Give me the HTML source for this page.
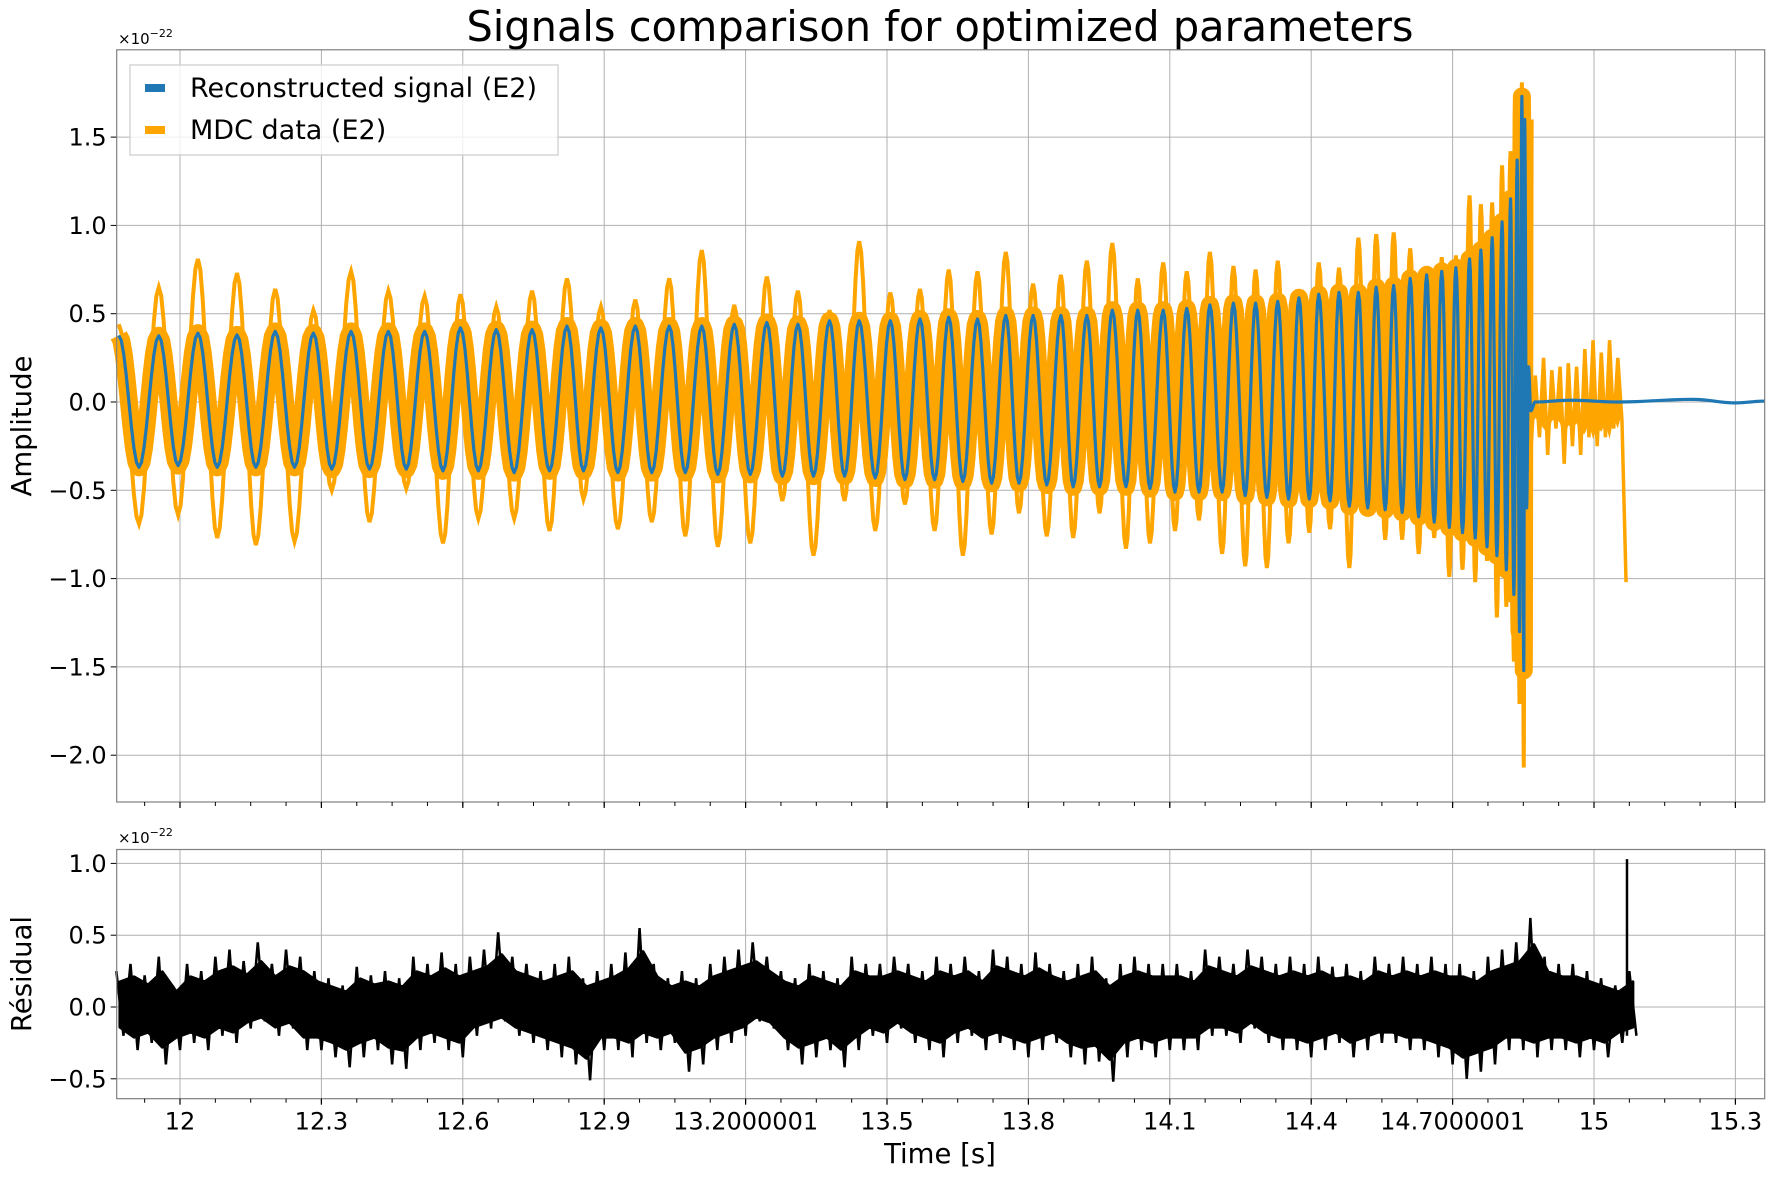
<!DOCTYPE html>
<html><head><meta charset="utf-8">
<style>
body{margin:0;background:#fff;}
svg{display:block;font-family:"DejaVu Sans","Liberation Sans",sans-serif;}
</style></head>
<body>
<svg id="chart" width="1776" height="1178" viewBox="0 0 1776 1178" xmlns="http://www.w3.org/2000/svg">
<rect width="1776" height="1178" fill="#fff"/>
<text x="940" y="41" font-size="41.5" text-anchor="middle" fill="#000">Signals comparison for optimized parameters</text>
<g id="top"></g>
<g id="bot"></g>
<text transform="translate(31,426) rotate(-90)" font-size="27.5" text-anchor="middle">Amplitude</text>
<text transform="translate(31,974) rotate(-90)" font-size="27.5" text-anchor="middle">Résidual</text>
<text x="940" y="1163" font-size="27.5" text-anchor="middle">Time [s]</text>
<text x="118" y="44" font-size="15">×10<tspan dy="-7" font-size="11">−22</tspan></text>
<text x="118" y="843" font-size="15">×10<tspan dy="-7" font-size="11">−22</tspan></text>
<g>
<rect x="130" y="65" width="428" height="90" fill="#fff" fill-opacity="0.8" stroke="#ccc" stroke-width="1.2"/>
<rect x="145" y="84" width="20" height="8" fill="#1f77b4"/>
<text x="190" y="97" font-size="27">Reconstructed signal (E2)</text>
<rect x="145" y="126" width="20" height="8" fill="#ffa500"/>
<text x="190" y="139" font-size="27">MDC data (E2)</text>
</g>
</svg>
<script>
// ---- data ----
const xTicks = [12, 12.3, 12.6, 12.9, 13.2, 13.5, 13.8, 14.1, 14.4, 14.7, 15, 15.3];
const xTickLabels = ["12","12.3","12.6","12.9","13.2000001","13.5","13.8","14.1","14.4","14.7000001","15","15.3"];
const yTicksTop = [1.5, 1.0, 0.5, 0.0, -0.5, -1.0, -1.5, -2.0];
const yTickLabelsTop = ["1.5","1.0","0.5","0.0","−0.5","−1.0","−1.5","−2.0"];
const yTicksBot = [1.0, 0.5, 0.0, -0.5];
const yTickLabelsBot = ["1.0","0.5","0.0","−0.5"];

const blueT = [11.870,11.913,11.955,11.996,12.038,12.079,12.121,12.161,12.202,12.243,12.283,12.322,12.363,12.402,12.442,12.480,12.519,12.558,12.595,12.633,12.671,12.709,12.747,
12.784,12.821,12.856,12.893,12.929,12.966,13.001,13.038,13.072,13.107,13.141,13.176,13.210,13.245,13.278,13.311,13.344,13.378,13.410,13.441,13.475,13.507,13.538,13.570,
13.601,13.631,13.661,13.692,13.722,13.752,13.780,13.810,13.839,13.869,13.895,13.924,13.951,13.978,14.007,14.032,14.058,14.086,14.111,14.136,14.162,14.185,14.211,14.235,14.260,14.282,14.306,14.329,14.352,14.374,14.396,14.416,14.440,14.459,14.481,14.500,14.520,14.538,14.557,14.575,
14.593,14.610,14.628,14.645,14.661,14.677,14.693,14.707,14.721,14.736,14.748,14.760,14.773,14.784,14.794,14.805,14.814,14.823,14.830,14.837,14.842,14.847,14.851,14.853,
14.857,14.861,14.866,14.875,14.95,15.05,15.21,15.30,15.362];
const blueV = [0.377,-0.37,0.375,-0.36,0.39,-0.37,0.38,-0.37,0.40,-0.37,0.39,-0.38,0.40,-0.38,0.40,-0.38,0.40,-0.39,0.42,-0.39,0.41,-0.40,0.41,
-0.39,0.43,-0.39,0.42,-0.40,0.43,-0.40,0.43,-0.40,0.43,-0.41,0.44,-0.41,0.45,-0.42,0.44,-0.42,0.46,-0.42,0.46,-0.43,0.46,-0.44,0.47,
-0.44,0.48,-0.45,0.47,-0.46,0.49,-0.46,0.49,-0.47,0.49,-0.48,0.49,-0.48,0.52,-0.48,0.52,-0.49,0.52,-0.51,0.53,-0.51,0.55,-0.51,0.56,-0.53,0.56,-0.54,0.57,-0.55,0.59,-0.55,0.61,-0.56,0.62,-0.59,0.62,-0.60,0.65,-0.61,0.66,
-0.625,0.70,-0.65,0.72,-0.68,0.74,-0.71,0.76,-0.74,0.81,-0.77,0.86,-0.82,0.93,-0.87,1.02,-0.95,1.15,-1.09,1.37,-1.30,1.73,-1.52,1.60,
-0.6,0.2,-0.05,0.0,0.01,0.0,0.015,-0.005,0.005];
const orangeV = [0.44,-0.69,0.65,-0.64,0.81,-0.77,0.73,-0.81,0.64,-0.79,0.52,-0.50,0.74,-0.68,0.63,-0.49,0.60,-0.80,0.61,-0.66,0.54,-0.66,0.63,
-0.73,0.70,-0.55,0.54,-0.72,0.58,-0.68,0.70,-0.76,0.86,-0.82,0.55,-0.80,0.71,-0.56,0.63,-0.87,0.52,-0.56,0.91,-0.73,0.62,-0.58,0.64,
-0.73,0.75,-0.87,0.74,-0.75,0.85,-0.63,0.67,-0.76,0.72,-0.77,0.80,-0.63,0.90,-0.83,0.70,-0.80,0.79,-0.73,0.74,-0.67,0.85,-0.86,0.77,-0.93,0.75,-0.94,0.80,-0.80,0.61,-0.74,0.79,-0.72,0.76,-0.94,0.93,-0.64,0.95,-0.78,0.96,
-0.78,0.87,-0.86,0.77,-0.77,0.82,-0.99,0.83,-0.95,1.17,-1.02,1.12,-0.90,1.13,-1.22,1.34,-1.16,1.42,-1.47,1.42,-1.71,1.81,-2.07,1.60];
const postStart = 14.858, postEnd = 15.068;
const postV = [0.2,-0.25,0.15,-0.2,0.25,-0.3,0.18,-0.15,0.2,-0.35,0.22,-0.25,0.2,-0.3,0.3,-0.2,0.35,-0.25,0.28,-0.2,0.35,-0.15,0.25,-0.1,-1.02];

const resStart = 11.865, resStep = 0.03;
const resHi = [0.25,0.3,0.22,0.35,0.15, 0.3,0.25,0.35,0.4,0.32, 0.45,0.3,0.4,0.35,0.25, 0.2,0.15,0.28,0.22,0.25, 0.2,0.35,0.3,0.38,0.3,
0.35,0.4,0.52,0.35,0.3, 0.25,0.3,0.35,0.2,0.25, 0.3,0.38,0.55,0.3,0.2, 0.25,0.2,0.3,0.35,0.4, 0.45,0.35,0.25,0.2,0.3,
0.25,0.2,0.35,0.3,0.3, 0.35,0.3,0.25,0.35,0.3, 0.35,0.25,0.4,0.35,0.3, 0.38,0.3,0.25,0.3,0.35, 0.2,0.3,0.35,0.3,0.3,
0.3,0.25,0.4,0.35,0.3, 0.4,0.35,0.3,0.35,0.3, 0.35,0.28,0.3,0.25,0.35, 0.3,0.35,0.3,0.35,0.3, 0.3,0.25,0.35,0.4,0.45,
0.62,0.35,0.3,0.3,0.25, 0.2,0.15,0.25];
const resLo = [-0.2,-0.3,-0.25,-0.4,-0.3, -0.25,-0.3,-0.2,-0.25,-0.15, -0.1,-0.2,-0.15,-0.3,-0.3, -0.35,-0.42,-0.35,-0.3,-0.4, -0.43,-0.3,-0.25,-0.3,-0.35,
-0.2,-0.15,-0.1,-0.2,-0.25, -0.3,-0.35,-0.4,-0.51,-0.3, -0.3,-0.35,-0.25,-0.3,-0.25, -0.45,-0.4,-0.3,-0.25,-0.2, -0.1,-0.15,-0.3,-0.4,-0.35,
-0.3,-0.42,-0.3,-0.2,-0.25, -0.15,-0.25,-0.3,-0.35,-0.25, -0.2,-0.3,-0.25,-0.3,-0.35, -0.3,-0.25,-0.35,-0.4,-0.38, -0.52,-0.35,-0.3,-0.35,-0.3,
-0.3,-0.3,-0.2,-0.2,-0.25, -0.15,-0.25,-0.3,-0.3,-0.35, -0.3,-0.25,-0.35,-0.3,-0.25, -0.25,-0.3,-0.3,-0.35,-0.4, -0.5,-0.45,-0.4,-0.3,-0.3,
-0.35,-0.3,-0.3,-0.35,-0.3, -0.35,-0.25,-0.2];
const resSpikeT = 15.07, resSpikeV = 1.03;

// ---- axes ----
const L = 116.7, R = 1764.7;
const topT = 49.8, topB = 802, botT = 849.5, botB = 1098.7;
const x = t => 180 + (t - 12) / 0.3 * 141.4;
const y1 = v => 402 - v * 176.6;
const y2 = v => 1007 - v * 143.6;
const NS = "http://www.w3.org/2000/svg";
function mk(tag, attrs, parent) {
  const e = document.createElementNS(NS, tag);
  for (const k in attrs) e.setAttribute(k, attrs[k]);
  parent.appendChild(e);
  return e;
}
const gTop = document.getElementById('top');
const gBot = document.getElementById('bot');

function axes(g, T, B, yfun, yt, ytl, name) {
  mk('rect', {x: L, y: T, width: R - L, height: B - T, fill: '#fff'}, g);
  xTicks.forEach((t) => {
    const gl = mk('line', {x1: x(t), x2: x(t), y1: T, y2: B, stroke: '#b0b0b0', 'stroke-width': 1}, g);
    
    
  });
  yt.forEach((v, i) => {
    const gl = mk('line', {x1: L, x2: R, y1: yfun(v), y2: yfun(v), stroke: '#b0b0b0', 'stroke-width': 1}, g);
    
    
    mk('line', {x1: L - 6, x2: L, y1: yfun(v), y2: yfun(v), stroke: '#000', 'stroke-width': 1}, g);
    const tx = mk('text', {x: L - 10, y: yfun(v) + 8.5, 'font-size': 24, 'text-anchor': 'end'}, g);
    tx.textContent = ytl[i];
    
    
  });
}
function frameAndXTicks(g, T, B, labels) {
  mk('rect', {x: L, y: T, width: R - L, height: B - T, fill: 'none', stroke: '#808080', 'stroke-width': 1.2}, g);
  for (let t = 11.925; t < 15.37; t += 0.075) {
    if (x(t) > L && x(t) < R) mk('line', {x1: x(t), x2: x(t), y1: B, y2: B + 4, stroke: '#000', 'stroke-width': 1}, g);
  }
  xTicks.forEach((t, i) => {
    mk('line', {x1: x(t), x2: x(t), y1: B, y2: B + 6, stroke: '#000', 'stroke-width': 1.2}, g);
    if (labels) {
      const tx = mk('text', {x: x(t), y: B + 31, 'font-size': 24, 'text-anchor': 'middle'}, g);
      tx.textContent = xTickLabels[i];
      
      
    }
  });
}
axes(gTop, topT, topB, y1, yTicksTop, yTickLabelsTop, 'top');
axes(gBot, botT, botB, y2, yTicksBot, yTickLabelsBot, 'bottom');

function cosPath(ts, vs, yfun, n) {
  let d = 'M' + x(ts[0]).toFixed(2) + ',' + yfun(vs[0]).toFixed(2);
  for (let i = 0; i < n - 1; i++) {
    for (let k = 1; k <= 8; k++) {
      const f = k / 8, w = (1 - Math.cos(Math.PI * f)) / 2;
      const t = ts[i] + (ts[i + 1] - ts[i]) * f;
      const v = vs[i] + (vs[i + 1] - vs[i]) * w;
      d += 'L' + x(t).toFixed(2) + ',' + yfun(v).toFixed(2);
    }
  }
  return d;
}
const nO = orangeV.length;
const band = mk('path', {d: cosPath(blueT, blueV, y1, nO), fill: 'none', stroke: '#ffa500', 'stroke-width': 18, 'stroke-linejoin': 'round'}, gTop);


const org = mk('path', {d: cosPath(blueT, orangeV, y1, nO), fill: 'none', stroke: '#ffa500', 'stroke-width': 4}, gTop);


let pd = '';
postV.forEach((v, i) => {
  const t = postStart + (postEnd - postStart) * i / (postV.length - 1);
  pd += (i ? 'L' : 'M') + x(t).toFixed(2) + ',' + y1(v).toFixed(2);
});
const post = mk('path', {d: pd, fill: 'none', stroke: '#ffa500', 'stroke-width': 3.5}, gTop);


const pts0 = [];
postV.slice(0, -1).forEach((v, i) => pts0.push(x(postStart + (postEnd - postStart) * i / (postV.length - 1)).toFixed(2) + ',' + y1(v * 0.6).toFixed(2)));
for (let i = postV.length - 2; i >= 0; i--) pts0.push(x(postStart + (postEnd - postStart) * i / (postV.length - 1)).toFixed(2) + ',' + y1(-Math.abs(postV[i]) * 0.6).toFixed(2));
const pf = mk('polygon', {points: pts0.join(' '), fill: '#ffa500'}, gTop);


const blue = mk('path', {d: cosPath(blueT, blueV, y1, blueT.length), fill: 'none', stroke: '#1f77b4', 'stroke-width': 3.2, 'stroke-linejoin': 'round'}, gTop);


frameAndXTicks(gTop, topT, topB, false);

// residual
let zig = '';
resHi.forEach((h, i) => {
  const t = resStart + resStep * i;
  zig += (i ? 'L' : 'M') + x(t).toFixed(2) + ',' + y2(h).toFixed(2);
  zig += 'L' + x(t + resStep / 2).toFixed(2) + ',' + y2(resLo[i]).toFixed(2);
});
const pts = [];
resHi.forEach((h, i) => pts.push(x(resStart + resStep * i + resStep / 4).toFixed(2) + ',' + y2(h * 0.7).toFixed(2)));
for (let i = resLo.length - 1; i >= 0; i--) pts.push(x(resStart + resStep * i + resStep / 4).toFixed(2) + ',' + y2(resLo[i] * 0.7).toFixed(2));
const rf = mk('polygon', {points: pts.join(' '), fill: '#000', stroke: '#000', 'stroke-width': 3, 'stroke-linejoin': 'round'}, gBot);


const rl = mk('path', {d: zig, fill: 'none', stroke: '#000', 'stroke-width': 2.5}, gBot);


const sp = mk('line', {x1: x(resSpikeT), x2: x(resSpikeT), y1: y2(resLo[resLo.length - 1]), y2: y2(resSpikeV), stroke: '#000', 'stroke-width': 2.5}, gBot);


frameAndXTicks(gBot, botT, botB, true);
</script>
</body></html>
